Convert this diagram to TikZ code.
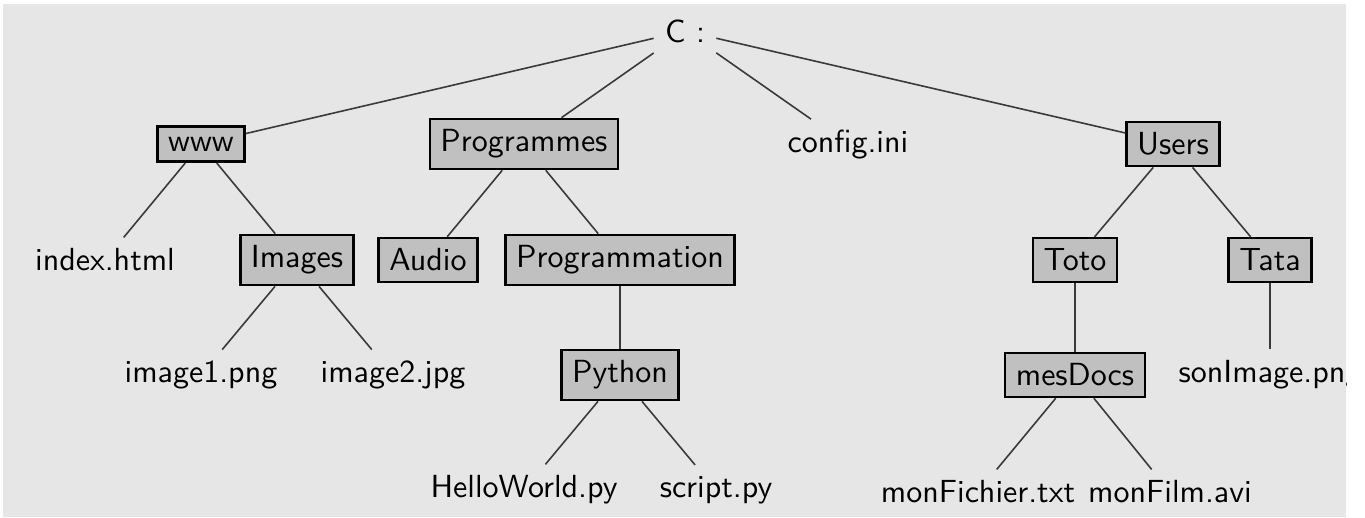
\documentclass[tikz,border=0pt]{standalone}
\usepackage{fontspec}
\definecolor{bggray}{HTML}{E6E6E6}
\definecolor{boxgray}{HTML}{C0C0C0}
\definecolor{linkgray}{HTML}{3A3A3A}
\begin{document}
\begin{tikzpicture}[x=0.3125pt,y=-0.3125pt,
  every node/.style={font=\sffamily},
  dirbox/.style={draw=black, fill=boxgray, line width=0.8pt},
  link/.style={draw=linkgray, line width=0.5pt}]
\fill[white] (0,0) rectangle (1365,517);
\useasboundingbox (0,0) rectangle (1365,517);
\fill[bggray] (3,4) rectangle (1346,517);
\begin{scope}
\clip (3,4) rectangle (1346,517);
% level 0
\node (root) at (685,31) {C :};
% level 1
\node[dirbox] (www) at (201,144) {www};
\node[dirbox] (prog) at (524,144) {Programmes};
\node (config) at (848,145) {config.ini};
\node[dirbox] (users) at (1173,144) {Users};
% level 2
\node (index) at (105,260) {index.html};
\node[dirbox] (images) at (297,260) {Images};
\node[dirbox] (audio) at (428,260) {Audio};
\node[dirbox] (progm) at (620,260) {Programmation};
\node[dirbox] (toto) at (1075,260) {Toto};
\node[dirbox] (tata) at (1270,260) {Tata};
% level 3
\node (img1) at (201,375) {image1.png};
\node (img2) at (393,375) {image2.jpg};
\node[dirbox] (python) at (620,375) {Python};
\node[dirbox] (mesdocs) at (1075,375) {mesDocs};
\node (sonimg) at (1270,375) {sonImage.png};
% level 4
\node (hello) at (524,490) {HelloWorld.py};
\node (script) at (716,490) {script.py};
\node (fichier) at (978,492) {monFichier.txt};
\node (film) at (1170,492) {monFilm.avi};
% connectors
\draw[link] (root) -- (www);
\draw[link] (root) -- (prog);
\draw[link] (root) -- (config);
\draw[link] (root) -- (users);
\draw[link] (www) -- (index);
\draw[link] (www) -- (images);
\draw[link] (images) -- (img1);
\draw[link] (images) -- (img2);
\draw[link] (prog) -- (audio);
\draw[link] (prog) -- (progm);
\draw[link] (progm) -- (python);
\draw[link] (python) -- (hello);
\draw[link] (python) -- (script);
\draw[link] (users) -- (toto);
\draw[link] (users) -- (tata);
\draw[link] (toto) -- (mesdocs);
\draw[link] (tata) -- (sonimg);
\draw[link] (mesdocs) -- (fichier);
\draw[link] (mesdocs) -- (film);
\end{scope}
\end{tikzpicture}
\end{document}
